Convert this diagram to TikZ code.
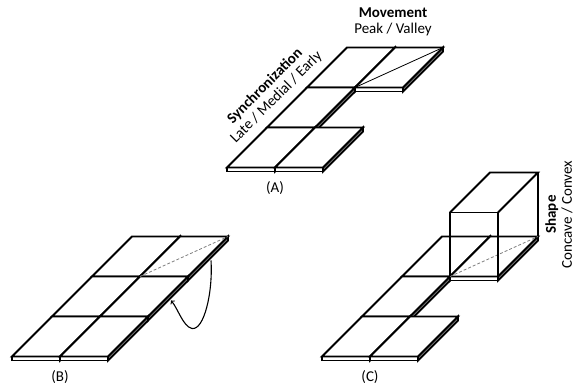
\documentclass[tikz,border=0pt]{standalone}
\usepackage{fontspec}
\setmainfont{Carlito}
\usetikzlibrary{arrows,calc,positioning}

\begin{document}
\begin{tikzpicture}[x=1pt, y=-1pt, line width=1.8pt, >=to,
        every node/.style={font=\fontsize{15}{16}\selectfont, align=center, inner sep=0pt},
        hint/.style={line width=0.8pt, gray, dash pattern=on 3pt off 2pt},
        tile/.pic={
            \filldraw[fill=gray!35] (48,0) -- (88,-40) -- (88,-36) -- (48,4) -- cycle;
            \filldraw[fill=white] (0,0) -- (48,0) -- (48,4) -- (0,4) -- cycle;
            \filldraw[fill=white] (0,0) -- (48,0) -- (88,-40) -- (40,-40) -- cycle;
            \coordinate (-fl) at (0,0);
            \coordinate (-br) at (88,-40);
            \coordinate (-fs) at (48,4);
            \coordinate (-drop) at (71,-16);
        },
        box/.pic={
            \draw (0,0) -- (0,-64) -- (48,-64) -- (48,0);
            \draw (0,-64) -- (40,-104) -- (88,-104) -- (48,-64);
            \draw (88,-104) -- (88,-40);
        }]
        \useasboundingbox (0,0) rectangle (573,387);

        \coordinate (A) at (227,167.5);
        \coordinate (B) at (12,356.5);
        \coordinate (C) at (322,356.5);

        % (A) movement
        \foreach \r/\c in {3/1,3/2,2/1,1/1,1/2}
            \pic (A\r\c) at ($(A)+({48*\c+40*\r-88},{40-40*\r})$) {tile};
        \draw[line width=0.8pt] (A32-fl) -- (A32-br);

        % (B) fold
        \foreach \r/\c in {3/1,3/2,2/1,2/2,1/1,1/2}
            \pic (B\r\c) at ($(B)+({48*\c+40*\r-88},{40-40*\r})$) {tile};
        \draw[hint] (B32-fl) -- (B32-br);
        \coordinate (turn) at (192,328.5);
        \draw[->, line width=1.1pt] (B32-drop) .. controls +(2,32) and +(12,2) .. (turn)
            .. controls +(-9,-2) and +(7,8) .. (B22-drop);

        % (C) shape
        \foreach \r/\c in {3/1,3/2,2/1,1/1,1/2}
            \pic (C\r\c) at ($(C)+({48*\c+40*\r-88},{40-40*\r})$) {tile};
        \draw[hint] (C32-fl) -- (C32-br);
        \pic (cube) at (C32-fl) {box};

        \node (labA) [below=9.5pt of A11-fs] {(A)};
        \node (labB) [below=9.5pt of B11-fs] {(B)};
        \node (labC) [below=9.5pt of C11-fs] {(C)};
        \node (move) at (393,21.8) {\textbf{Movement}\\Peak / Valley};
        \node (sync) [rotate=45] at (270.7,91.8) {\textbf{Synchronization}\\Late / Medial / Early};
        \node (shape) [rotate=90] at (559,214.5) {\textbf{Shape}\\Concave / Convex};
\end{tikzpicture}
\end{document}
